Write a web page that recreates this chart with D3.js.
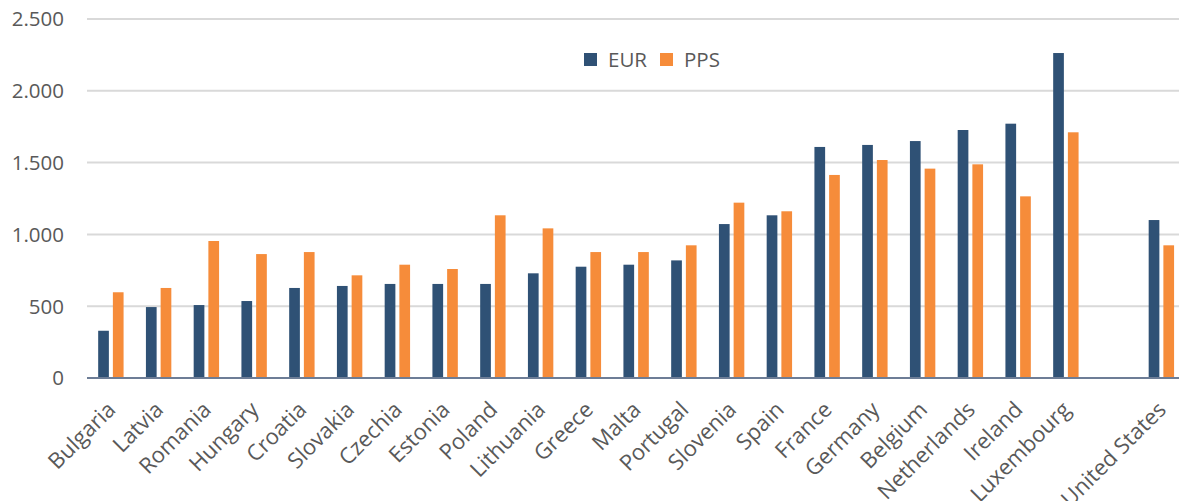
<!DOCTYPE html>
<html>
<head>
<meta charset="utf-8">
<script src="https://cdn.jsdelivr.net/npm/d3@7"></script>
<style>
  body { margin: 0; background: #fff; }
  svg { display: block; font-family: "Open Sans", "Noto Sans", sans-serif; }
</style>
</head>
<body>
<svg id="chart"></svg>
<script>
// categories ("" is the empty slot before the United States)
const countries = ["Bulgaria", "Latvia", "Romania", "Hungary", "Croatia", "Slovakia", "Czechia",
  "Estonia", "Poland", "Lithuania", "Greece", "Malta", "Portugal", "Slovenia", "Spain", "France",
  "Germany", "Belgium", "Netherlands", "Ireland", "Luxembourg", "", "United States"];
const eur = [329, 494, 508, 536, 627, 641, 655, 655, 655, 729, 775, 789, 819, 1072, 1133, 1609,
  1623, 1650, 1727, 1771, 2263, null, 1100];
const pps = [597, 627, 954, 863, 877, 715, 789, 759, 1133, 1042, 877, 877, 924, 1221, 1161, 1414,
  1518, 1458, 1488, 1265, 1711, null, 924];
const series = ["EUR", "PPS"];
const yTicks = [0, 500, 1000, 1500, 2000, 2500];

const colors = {EUR: "#2f5175", PPS: "#f68c3a"};
const width = 1179, height = 501;
const margin = {top: 19, left: 87, bottom: 123};

const svg = d3.select("#chart").attr("width", width).attr("height", height);

const x = d3.scaleBand()
    .domain(d3.range(countries.length))
    .range([margin.left, margin.left + 47.75 * countries.length]);

const y = d3.scaleLinear()
    .domain([0, 2500])
    .range([height - margin.bottom, margin.top]);

const fmt = v => d3.format(",")(v).replace(/,/g, ".");

// gridlines
svg.append("g").selectAll("line")
  .data(yTicks.slice(1))
  .join("line")
    .attr("x1", margin.left).attr("x2", width)
    .attr("y1", d => y(d)).attr("y2", d => y(d))
    .attr("stroke", "#d9d9d9").attr("stroke-width", 2);

// y labels
svg.append("g").selectAll("text")
  .data(yTicks)
  .join("text")
    .attr("x", 64).attr("y", d => y(d))
    .attr("dy", "0.36em")
    .attr("text-anchor", "end")
    .attr("font-size", 20.5)
    .attr("fill", "#595959")
    .text(fmt);

// bars
const barW = 10.7, gap = 4;
const sub = d3.scaleOrdinal().domain(series).range([-gap / 2 - barW, gap / 2]);
const rows = countries.map((c, i) => ({i, EUR: eur[i], PPS: pps[i]}));

const groups = svg.append("g").selectAll("g")
  .data(rows.filter(d => d.EUR != null))
  .join("g")
    .attr("transform", d => `translate(${x(d.i) + x.bandwidth() / 2},0)`);

groups.selectAll("rect")
  .data(d => series.map(s => ({s, v: d[s]})))
  .join("rect")
    .attr("x", d => sub(d.s))
    .attr("width", barW)
    .attr("y", d => y(d.v))
    .attr("height", d => y(0) - y(d.v))
    .attr("fill", d => colors[d.s]);

// baseline
svg.append("line")
    .attr("x1", margin.left).attr("x2", width)
    .attr("y1", y(0)).attr("y2", y(0))
    .attr("stroke", "#6d7d96").attr("stroke-width", 2);

// x labels
svg.append("g").selectAll("text")
  .data(rows.filter(d => countries[d.i] !== ""))
  .join("text")
    .attr("transform", d => `translate(${x(d.i) + x.bandwidth() / 2 + 6},${y(0) + 33}) rotate(-45)`)
    .attr("text-anchor", "end")
    .attr("font-size", 22)
    .attr("fill", "#595959")
    .text(d => countries[d.i]);

// legend
const legend = svg.append("g").attr("transform", "translate(584,53)");
const item = legend.selectAll("g")
  .data(series)
  .join("g")
    .attr("transform", (d, i) => `translate(${i * 76},0)`);
item.append("rect")
    .attr("width", 13).attr("height", 13)
    .attr("fill", d => colors[d]);
item.append("text")
    .attr("x", 24).attr("y", 13.5)
    .attr("font-size", 20.5)
    .attr("fill", "#595959")
    .text(d => d);
</script>
</body>
</html>
